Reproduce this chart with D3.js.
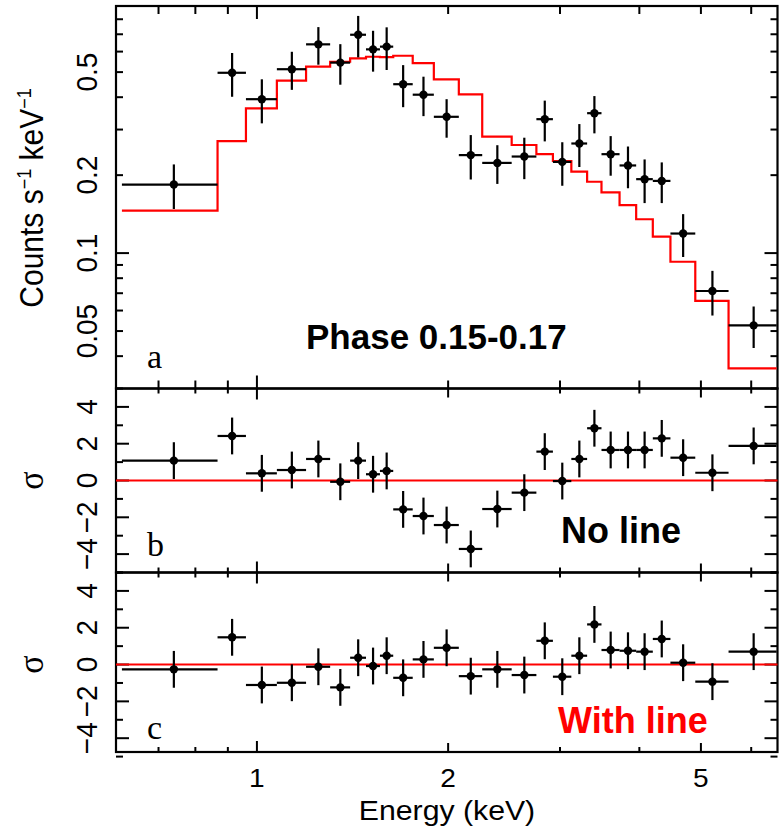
<!DOCTYPE html>
<html>
<head>
<meta charset="utf-8">
<script src="https://cdn.jsdelivr.net/npm/d3@7"></script>
<style>
  body { margin: 0; background: #fff; }
  text { font-family: "Liberation Sans", Arial, sans-serif; }
</style>
</head>
<body>
<div id="chart"></div>
<script>
// energy bin edges (keV), 26 bins
const edges = [0.613, 0.867, 0.961, 1.075, 1.195, 1.304, 1.402, 1.485, 1.562, 1.639, 1.759, 1.899, 2.079,
  2.263, 2.518, 2.754, 2.924, 3.126, 3.310, 3.487, 3.723, 3.954, 4.200, 4.477, 4.899, 5.527, 6.58];
// counts s^-1 keV^-1
const rate = [0.184, 0.497, 0.393, 0.513, 0.640, 0.544, 0.697, 0.612, 0.627, 0.449, 0.409, 0.336, 0.239,
  0.223, 0.236, 0.329, 0.225, 0.265, 0.347, 0.241, 0.218, 0.193, 0.190, 0.119, 0.0714, 0.0526];
const rateErr = [0.036, 0.0955, 0.076, 0.086, 0.106, 0.097, 0.127, 0.110, 0.1175, 0.083, 0.071, 0.057, 0.0466,
  0.038, 0.043, 0.059, 0.043, 0.050, 0.057, 0.042, 0.040, 0.037, 0.034, 0.0224, 0.014, 0.0096];
const model = [0.1458, 0.2709, 0.3623, 0.4639, 0.5245, 0.5483, 0.5651, 0.5732, 0.5715, 0.5783, 0.542, 0.469, 0.4104,
  0.2815, 0.2615, 0.2413, 0.2268, 0.2062, 0.1886, 0.1717, 0.1533, 0.1351, 0.1157, 0.0926, 0.0654, 0.0359];
// residuals in sigma
const resNoLine = [1.08, 2.42, 0.39, 0.57, 1.17, -0.07, 1.08, 0.34, 0.52, -1.57, -1.93, -2.42, -3.72,
  -1.55, -0.66, 1.57, -0.03, 1.17, 2.84, 1.66, 1.66, 1.66, 2.29, 1.24, 0.42, 1.88];
const resWithLine = [-0.26, 1.48, -1.11, -0.99, -0.12, -1.24, 0.37, -0.08, 0.48, -0.72, 0.28, 0.91, -0.63,
  -0.26, -0.57, 1.29, -0.66, 0.48, 2.18, 0.79, 0.75, 0.70, 1.39, 0.10, -0.93, 0.70];

const xTickLabels = [1, 2, 5];
const xMinorTicks = [0.7, 0.8, 0.9, 2, 3, 4, 5, 6];
const yTickLabelsA = [0.05, 0.1, 0.2, 0.5];
const yMinorA = [0.04, 0.05, 0.06, 0.07, 0.08, 0.09, 0.2, 0.3, 0.4, 0.5, 0.6, 0.7, 0.8];
const yTickLabelsRes = [-4, -2, 0, 2, 4];
const yMinorRes = [-5, -3, -1, 1, 3, 5];

const W = 781, H = 828;
const left = 116, right = 777.5;
const RED = "#ff0000";

const svg = d3.select("#chart").append("svg")
  .attr("width", W).attr("height", H);

const x = d3.scaleLog().domain([0.6, 6.6]).range([left, right]);

const yA = d3.scaleLog().domain([0.03, 0.9]).range([388.5, 6]);
const yB = d3.scaleLinear().domain([-5, 5]).range([572.5, 388.5]);
const yC = d3.scaleLinear().domain([-4.75, 5]).range([752, 572.5]);

const bins = rate.map((r, i) => ({
  lo: edges[i], hi: edges[i + 1], mid: (edges[i] + edges[i + 1]) / 2,
  rate: r, err: rateErr[i], model: model[i], rb: resNoLine[i], rc: resWithLine[i]
}));

// ticks pointing inward on all four sides
function drawTicks(y, xMajor, xMinor, xMajLen, xMinLen, yMajor, yMinor, yMajLen, yMinLen) {
  const [y0, y1] = y.range();
  const g = svg.append("g").attr("stroke", "#000").attr("stroke-width", 2);
  const xt = (vals, len) => vals.forEach(v => {
    g.append("line").attr("x1", x(v)).attr("x2", x(v)).attr("y1", y0).attr("y2", y0 - len);
    g.append("line").attr("x1", x(v)).attr("x2", x(v)).attr("y1", y1).attr("y2", y1 + len);
  });
  const yt = (vals, len) => vals.forEach(v => {
    g.append("line").attr("x1", left).attr("x2", left + len).attr("y1", y(v)).attr("y2", y(v));
    g.append("line").attr("x1", right).attr("x2", right - len).attr("y1", y(v)).attr("y2", y(v));
  });
  xt(xMajor, xMajLen);
  xMinor.forEach(v => xt([v], typeof xMinLen === "function" ? xMinLen(v) : xMinLen));
  yt(yMajor, yMajLen);
  yt(yMinor, yMinLen);
  svg.append("rect")
    .attr("x", left).attr("y", y1).attr("width", right - left).attr("height", y0 - y1)
    .attr("fill", "none").attr("stroke", "#000").attr("stroke-width", 2.2);
}

drawTicks(yA, [1], xMinorTicks, 13, 8, [0.1], yMinorA, 13, 7);
drawTicks(yB, [1], xMinorTicks, 11, v => (v === 2 || v === 5) ? 9 : 5, [-4, -2, 0, 2, 4], yMinorRes, 13, 7);
drawTicks(yC, [1], xMinorTicks, 11, v => (v === 2 || v === 5) ? 9 : 5, [-4, -2, 0, 2, 4], yMinorRes, 13, 7);

// model (red histogram)
const stepPts = bins.map(b => [b.lo, b.model]).concat([[bins[bins.length - 1].hi, bins[bins.length - 1].model]]);
svg.append("path")
  .datum(stepPts)
  .attr("fill", "none").attr("stroke", RED).attr("stroke-width", 2.2)
  .attr("d", d3.line().x(d => x(d[0])).y(d => yA(d[1])).curve(d3.curveStepAfter));

// zero lines in residual panels
[yB, yC].forEach(y => {
  svg.append("line")
    .attr("x1", left).attr("x2", right).attr("y1", y(0)).attr("y2", y(0))
    .attr("stroke", RED).attr("stroke-width", 2);
});

// crosses with dots
function drawPoints(y, val, err) {
  const g = svg.append("g");
  g.selectAll("line.h").data(bins).enter().append("line")
    .attr("x1", d => x(d.lo)).attr("x2", d => x(d.hi))
    .attr("y1", d => y(val(d))).attr("y2", d => y(val(d)))
    .attr("stroke", "#000").attr("stroke-width", 2.2);
  g.selectAll("line.v").data(bins).enter().append("line")
    .attr("x1", d => x(d.mid)).attr("x2", d => x(d.mid))
    .attr("y1", d => y(val(d) - err(d))).attr("y2", d => y(val(d) + err(d)))
    .attr("stroke", "#000").attr("stroke-width", 2.2);
  g.selectAll("circle").data(bins).enter().append("circle")
    .attr("cx", d => x(d.mid)).attr("cy", d => y(val(d)))
    .attr("r", 4.2).attr("fill", "#000");
}

drawPoints(yA, d => d.rate, d => d.err);
drawPoints(yB, d => d.rb, d => 1);
drawPoints(yC, d => d.rc, d => 1);

// tick labels
const sx = 1.08;
function vText(xp, yp, txt, size, family) {
  return svg.append("text")
    .attr("transform", `translate(${xp},${yp}) rotate(-90) scale(1,${sx})`)
    .attr("text-anchor", "middle")
    .attr("font-size", size)
    .style("font-family", family || null)
    .text(txt);
}

yTickLabelsA.forEach(v => vText(96.5, yA(v), String(v), 28));
[yB, yC].forEach(y => yTickLabelsRes.forEach(v => {
  vText(96.5, y(v), v < 0 ? "\u2212" + Math.abs(v) : String(v), 28);
}));

xTickLabels.forEach(v => {
  svg.append("text")
    .attr("transform", `translate(${x(v)},786.5) scale(${sx},1)`)
    .attr("text-anchor", "middle").attr("font-size", 26)
    .text(v);
});

// axis titles
svg.append("text")
  .attr("transform", `translate(447,820) scale(${sx},1)`)
  .attr("text-anchor", "middle").attr("font-size", 28)
  .text("Energy (keV)");

const yl = svg.append("text")
  .attr("transform", `translate(43,198) rotate(-90) scale(1,${sx})`)
  .attr("text-anchor", "middle").attr("font-size", 30);
yl.append("tspan").text("Counts s");
yl.append("tspan").attr("font-size", 18).attr("dy", -11).text("\u22121");
yl.append("tspan").attr("dy", 11).text(" keV");
yl.append("tspan").attr("font-size", 18).attr("dy", -11).text("\u22121");

vText(43, yB(0), "\u03c3", 34, "Liberation Serif");
vText(43, yC(0), "\u03c3", 34, "Liberation Serif");

// panel letters
[["a", 368], ["b", 556], ["c", 739]].forEach(([t, yy]) => {
  svg.append("text")
    .attr("x", 147).attr("y", yy)
    .attr("font-size", 34)
    .style("font-family", "Liberation Serif, Times New Roman, serif")
    .text(t);
});

// annotations
svg.append("text").attr("x", 306).attr("y", 349)
  .attr("font-size", 35).attr("font-weight", "bold").text("Phase 0.15-0.17");
svg.append("text").attr("x", 561).attr("y", 542.5)
  .attr("font-size", 36).attr("font-weight", "bold").text("No line");
svg.append("text").attr("x", 558).attr("y", 733)
  .attr("font-size", 36).attr("font-weight", "bold").attr("fill", RED).text("With line");
</script>
</body>
</html>
